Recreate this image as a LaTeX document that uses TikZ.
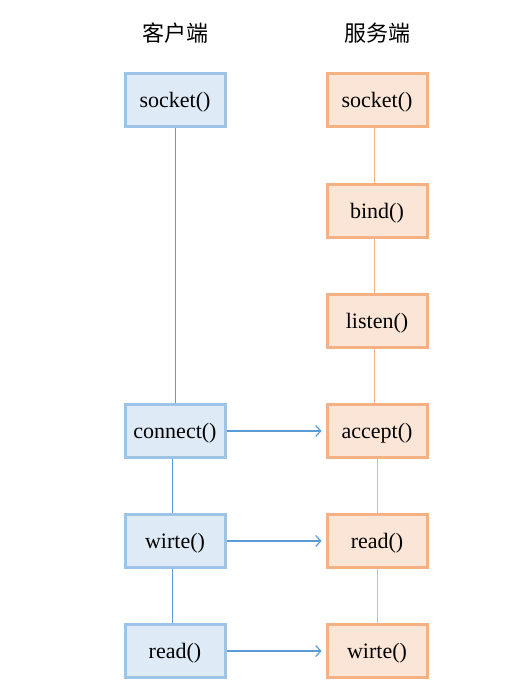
\documentclass[tikz,border=0pt]{standalone}
\usepackage{fontspec}
\setmainfont{Liberation Serif}
\newfontfamily\cjk{Noto Sans CJK SC}
\usetikzlibrary{arrows.meta}
\definecolor{cbord}{HTML}{9DC3E6}
\definecolor{cfill}{HTML}{DEEBF7}
\definecolor{cline}{HTML}{5B9BD5}
\definecolor{sbord}{HTML}{F4B183}
\definecolor{sfill}{HTML}{FBE5D6}
\definecolor{sline}{HTML}{F4B183}
\tikzset{
  box/.style={draw, line width=3pt, minimum width=100pt, minimum height=53pt, inner sep=0pt, text depth=0pt, font=\fontsize{22}{26}\selectfont},
  cbox/.style={box, draw=cbord, fill=cfill},
  sbox/.style={box, draw=sbord, fill=sfill},
  head/.style={font=\cjk\fontsize{22}{26}\selectfont},
  clink/.style={draw=cline, line width=1pt},
  slink/.style={draw=sline, line width=1pt},
  arr/.style={draw=cline, line width=1.2pt, -{Straight Barb[length=5pt,width=11pt,line width=1.2pt]}}
}
\begin{document}
\begin{tikzpicture}[x=1pt,y=-1pt]
\useasboundingbox (0,0) rectangle (527,684);
\node[head] (hc) at (175,33) {客户端};
\node[head] (hs) at (377,33) {服务端};

\node[cbox] (cs) at (175,100) {socket()};
\node[cbox] (cc) at (175,431) {connect()};
\node[cbox] (cw) at (175,541) {wirte()};
\node[cbox] (cr) at (175,651) {read()};

\node[sbox] (ss) at (377,100) {socket()};
\node[sbox] (sb) at (377,211) {bind()};
\node[sbox] (sl) at (377,321) {listen()};
\node[sbox] (sa) at (377,431) {accept()};
\node[sbox] (sr) at (377,541) {read()};
\node[sbox] (sw) at (377,651) {wirte()};

\draw[clink] (cs.south) -- (cc.north);
\draw[clink] ([xshift=-3pt]cc.south) -- ([xshift=-3pt]cw.north);
\draw[clink] ([xshift=-3pt]cw.south) -- ([xshift=-3pt]cr.north);

\draw[slink] ([xshift=-3pt]ss.south) -- ([xshift=-3pt]sb.north);
\draw[slink] ([xshift=-3pt]sb.south) -- ([xshift=-3pt]sl.north);
\draw[slink] ([xshift=-3pt]sl.south) -- ([xshift=-3pt]sa.north);
\draw[slink] (sa.south) -- (sr.north);
\draw[slink] (sr.south) -- (sw.north);

\draw[arr] (cc.east) -- ([xshift=-4pt]sa.west);
\draw[arr] (cw.east) -- ([xshift=-4pt]sr.west);
\draw[arr] (cr.east) -- ([xshift=-4pt]sw.west);
\end{tikzpicture}
\end{document}
